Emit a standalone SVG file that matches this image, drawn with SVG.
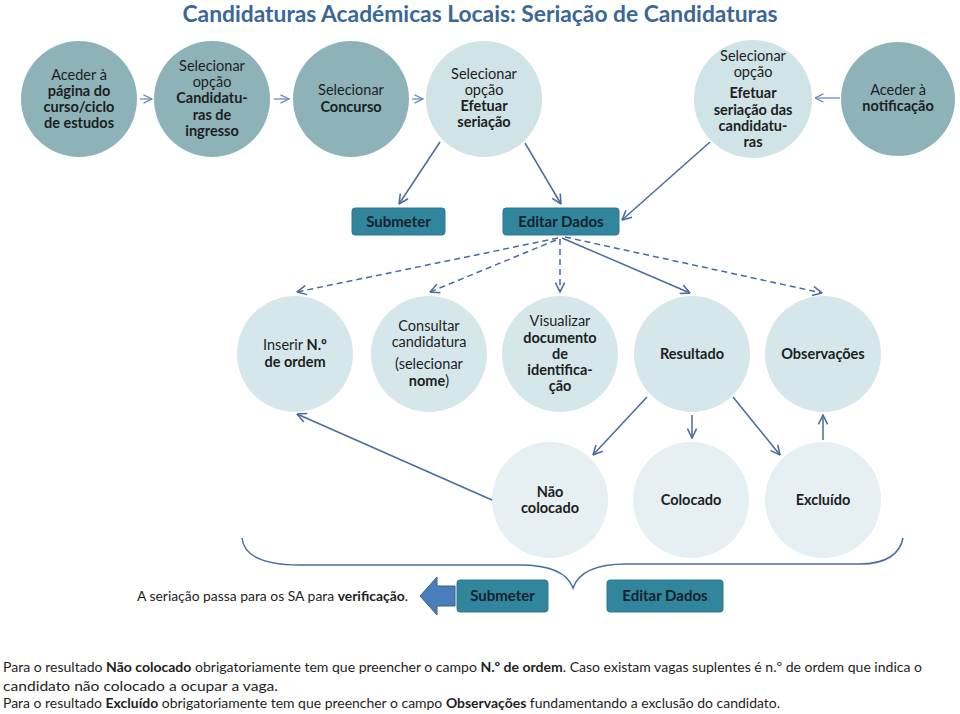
<svg xmlns="http://www.w3.org/2000/svg" width="960" height="714" viewBox="0 0 960 714">
<defs>
<marker id="ah" viewBox="0 0 10 10" refX="9.5" refY="5" markerWidth="11" markerHeight="11" markerUnits="userSpaceOnUse" orient="auto">
<path d="M1,0.8 L9.5,5 L1,9.2" fill="none" stroke="#4A6B9E" stroke-width="1.4"/>
</marker>
<marker id="ahs" viewBox="0 0 10 10" refX="9.5" refY="5" markerWidth="10" markerHeight="10" markerUnits="userSpaceOnUse" orient="auto">
<path d="M1,0.8 L9.5,5 L1,9.2" fill="none" stroke="#6A8CBE" stroke-width="1.3"/>
</marker>
</defs>
<style>
text{font-family:Lato,"Liberation Sans",sans-serif;fill:#1E1E1E;}
.t{font-size:14.5px;text-anchor:middle;}
.b{font-weight:bold;}
.dark{fill:#8DB3B9;}
.light{fill:#D0E3E7;}
.light2{fill:#D6E7EB;}
.light3{fill:#E6EFF2;}
.box{fill:#31859C;stroke:#2C7A8F;stroke-width:1;}
.bt{font-size:15px;font-weight:bold;text-anchor:middle;fill:#17232F;}
.c{fill:none;stroke:#4A6B9E;stroke-width:1.5;}
.d{stroke-dasharray:6,4;}
.s{fill:none;stroke:#6A8CBE;stroke-width:1.3;}
.note{font-size:14px;}
</style>
<text x="480" y="22" text-anchor="middle" font-size="22" font-weight="bold" style="fill:#3B6798" textLength="595" lengthAdjust="spacingAndGlyphs">Candidaturas Académicas Locais: Seriação de Candidaturas</text>

<g id="n1"><circle class="dark" cx="79" cy="99" r="58"/>
<text class="t" x="79" y="80">Aceder à</text>
<text class="t b" x="79" y="96">página do</text>
<text class="t b" x="79" y="112">curso/ciclo</text>
<text class="t b" x="79" y="128">de estudos</text></g>

<g id="n2"><circle class="dark" cx="212" cy="99" r="58"/>
<text class="t" x="212" y="71">Selecionar</text>
<text class="t" x="212" y="87">opção</text>
<text class="t b" x="212" y="103">Candidatu-</text>
<text class="t b" x="212" y="120">ras de</text>
<text class="t b" x="212" y="136">ingresso</text></g>

<g id="n3"><circle class="dark" cx="351" cy="99" r="58"/>
<text class="t" x="351" y="95">Selecionar</text>
<text class="t b" x="351" y="112">Concurso</text></g>

<g id="n4"><circle class="light" cx="484" cy="99" r="58"/>
<text class="t" x="484" y="79">Selecionar</text>
<text class="t" x="484" y="95">opção</text>
<text class="t b" x="484" y="111">Efetuar</text>
<text class="t b" x="484" y="127">seriação</text></g>

<g id="n5"><circle class="light" cx="753" cy="99" r="59"/>
<text class="t" x="753" y="61">Selecionar</text>
<text class="t" x="753" y="77">opção</text>
<text class="t b" x="753" y="98">Efetuar</text>
<text class="t b" x="753" y="115">seriação das</text>
<text class="t b" x="753" y="131">candidatu-</text>
<text class="t b" x="753" y="147">ras</text></g>

<g id="n6"><circle class="dark" cx="898" cy="99" r="57"/>
<text class="t" x="898" y="95">Aceder à</text>
<text class="t b" x="898" y="111">notificação</text></g>

<g id="submeter1"><rect class="box" x="352" y="208" width="93" height="27" rx="3"/>
<text class="bt" x="398.5" y="227">Submeter</text></g>
<g id="editar1"><rect class="box" x="503" y="208" width="116" height="27" rx="3"/>
<text class="bt" x="561" y="227">Editar Dados</text></g>

<g id="r1"><circle class="light2" cx="295" cy="354" r="58"/>
<text class="t" x="295" y="350">Inserir <tspan class="b">N.º</tspan></text>
<text class="t b" x="295" y="367">de ordem</text></g>

<g id="r2"><circle class="light2" cx="429" cy="354" r="58"/>
<text class="t" x="429" y="331">Consultar</text>
<text class="t" x="429" y="347">candidatura</text>
<text class="t" x="429" y="369">(selecionar</text>
<text class="t" x="429" y="386"><tspan class="b">nome</tspan>)</text></g>

<g id="r3"><circle class="light2" cx="560" cy="354" r="58"/>
<text class="t" x="560" y="326">Visualizar</text>
<text class="t b" x="560" y="343">documento</text>
<text class="t b" x="560" y="359">de</text>
<text class="t b" x="560" y="375">identifica-</text>
<text class="t b" x="560" y="391">ção</text></g>

<g id="r4"><circle class="light2" cx="692" cy="354" r="58"/>
<text class="t b" x="692" y="359">Resultado</text></g>

<g id="r5"><circle class="light2" cx="823" cy="354" r="58"/>
<text class="t b" x="823" y="359">Observações</text></g>

<g id="q1"><circle class="light3" cx="550" cy="500" r="58"/>
<text class="t b" x="550" y="497">Não</text>
<text class="t b" x="550" y="513">colocado</text></g>

<g id="q2"><circle class="light3" cx="691" cy="500" r="58"/>
<text class="t b" x="691" y="505">Colocado</text></g>

<g id="q3"><circle class="light3" cx="823" cy="500" r="58"/>
<text class="t b" x="823" y="505">Excluído</text></g>

<g id="connectors">
<path class="s" d="M140,99 L152,99" marker-end="url(#ahs)"/>
<path class="s" d="M274,99 L289,99" marker-end="url(#ahs)"/>
<path class="s" d="M412,99 L423,99" marker-end="url(#ahs)"/>
<path class="s" d="M840,98 L815,98" marker-end="url(#ahs)"/>
<path class="c" d="M440,142 L399,204" marker-end="url(#ah)"/>
<path class="c" d="M525,143 L561,204" marker-end="url(#ah)"/>
<path class="c" d="M710,142 L622,220" marker-end="url(#ah)"/>
<path class="c d" d="M558,238 L297,292" marker-end="url(#ah)"/>
<path class="c d" d="M556,240 L430,292" marker-end="url(#ah)"/>
<path class="c d" d="M560,239 L560,292" marker-end="url(#ah)"/>
<path class="c" d="M562,238 L690,293" marker-end="url(#ah)"/>
<path class="c d" d="M565,237 L822,293" marker-end="url(#ah)"/>
<path class="c" d="M647,397 L593,455" marker-end="url(#ah)"/>
<path class="c" d="M692,415 L692,438" marker-end="url(#ah)"/>
<path class="c" d="M733,397 L780,455" marker-end="url(#ah)"/>
<path class="c" d="M823,440 L823,415" marker-end="url(#ah)"/>
<path class="c" d="M492,500 L297,414" marker-end="url(#ah)"/>
<path class="c" d="M242,538 C244,556 262,565 300,565 L520,565 C552,565 568,574 573,588 C578,574 594,564 626,564 L860,564 C886,564 900,554 903,538"/>
</g>

<text class="note" x="137" y="601" textLength="271" lengthAdjust="spacingAndGlyphs">A seriação passa para os SA para <tspan class="b">verificação</tspan>.</text>
<g id="leftarrow"><path d="M420,596 L437,577 L437,586 L455,586 L455,606 L437,606 L437,615 Z" fill="#4A7EBB" stroke="#3A5F8B" stroke-width="1"/></g>
<g id="submeter2"><rect class="box" x="457" y="580" width="91" height="32" rx="3"/>
<text class="bt" x="502.5" y="601">Submeter</text></g>
<g id="editar2"><rect class="box" x="607" y="580" width="116" height="32" rx="3"/>
<text class="bt" x="665" y="601">Editar Dados</text></g>

<text class="note" x="3" y="672" textLength="919" lengthAdjust="spacingAndGlyphs">Para o resultado <tspan class="b">Não colocado</tspan> obrigatoriamente tem que preencher o campo <tspan class="b">N.º de ordem</tspan>. Caso existam vagas suplentes é  n.º de ordem que indica o</text>
<text class="note" x="3" y="691" textLength="275" lengthAdjust="spacingAndGlyphs">candidato não colocado a ocupar a vaga.</text>
<text class="note" x="3" y="708" textLength="777" lengthAdjust="spacingAndGlyphs">Para o resultado <tspan class="b">Excluído</tspan> obrigatoriamente tem que preencher o campo <tspan class="b">Observações</tspan> fundamentando a exclusão do candidato.</text>
</svg>
